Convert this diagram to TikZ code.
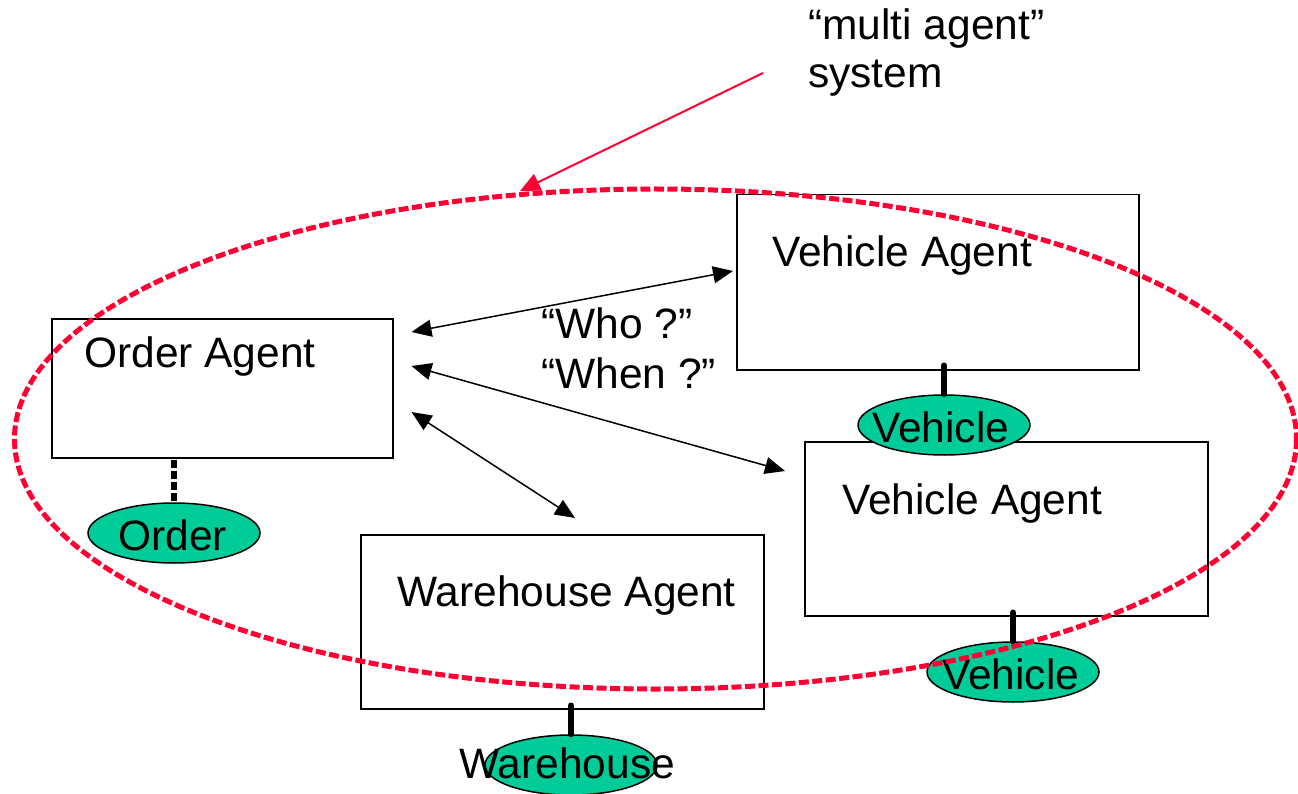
\documentclass[tikz,border=0pt]{standalone}
\usepackage{fontspec}
\setmainfont{Liberation Sans}
\usetikzlibrary{arrows.meta,calc,shapes.geometric}
\definecolor{mared}{RGB}{255,0,51}
\definecolor{magreen}{RGB}{0,204,153}
\tikzset{
  agentbox/.style={draw=black,line width=1.5pt,inner sep=0pt,anchor=north west},
  lbl/.style={font=\fontsize{42.5}{48}\selectfont,inner sep=0pt,anchor=base west,align=left},
  entity/.style={ellipse,draw=black,line width=1.5pt,fill=magreen,inner sep=0pt,minimum width=172pt,minimum height=60pt},
  msg/.style={line width=1.5pt,{Triangle[length=20pt,width=17pt]}-{Triangle[length=20pt,width=17pt]}},
  link/.style={line width=6pt,line cap=round},
  sysring/.style={draw=mared,line width=5pt,dash pattern=on 10pt off 3.5pt}
}
\begin{document}
\begin{tikzpicture}[x=1pt,y=-1pt]
\useasboundingbox (0,0) rectangle (1298,794);
% boxes
\node[agentbox,minimum width=341pt,minimum height=139pt] (order) at (51,318) {};
\node[agentbox,minimum width=402pt,minimum height=175pt] (veh1) at (736,194) {};
\node[agentbox,minimum width=403pt,minimum height=174pt] (veh2) at (804,441) {};
\node[agentbox,minimum width=403pt,minimum height=174pt] (ware) at (360,534) {};
% box labels
\node[lbl] (orderlbl) at (84,367) {Order Agent};
\node[lbl] (veh1lbl) at (772,267) {Vehicle Agent};
\node[lbl] (veh2lbl) at (842,514) {Vehicle Agent};
\node[lbl] (warelbl) at (397,606) {Warehouse Agent};
% entities and links
\node[entity] (ordere) at (174,533) {};
\node[lbl] (orderetxt) at (118,550) {Order};
\draw[line width=6pt,dash pattern=on 8pt off 3pt] ($(order.south -| ordere.north)+(0,1)$) -- (ordere.north);
\node[entity] (vehe1) at (944,425) {};
\node[lbl] (vehe1txt) at (872,442) {Vehicle};
\draw[link] ($(veh1.south -| vehe1.north)+(0,-5)$) -- (vehe1.north);
\node[entity] (vehe2) at (1013,672) {};
\node[lbl] (vehe2txt) at (942,689) {Vehicle};
\draw[link] ($(veh2.south -| vehe2.north)+(0,-4)$) -- (vehe2.north);
\node[entity] (waree) at (571,765) {};
\node[lbl] (warename) at (459,778) {Warehouse};
\draw[link] ($(ware.south -| waree.north)+(0,-4)$) -- (waree.north);
% messages
\draw[msg] ($(order.north east)+(18,14)$) -- ($(veh1.north west)+(-3,77)$);
\draw[msg] ($(order.north east)+(18,48)$) -- ($(veh2.north west)+(-19,30)$);
\draw[msg] ($(order.north east)+(18,94)$) -- ($(ware.north west)+(215,-16)$);
\node[lbl] (who) at (541,338) {“Who ?”};
\node[lbl] (when) at (541,388) {“When ?”};
% system ring
\draw[sysring] (655.5,439) ellipse [x radius=641, y radius=250];
\node[lbl] (sys) at (808,88) {“multi agent”\\system};
\coordinate (systip) at (520,191);
\draw[mared,line width=2pt,-{Triangle[length=20pt,width=18pt]}] (763,73) -- (systip);
\end{tikzpicture}
\end{document}
